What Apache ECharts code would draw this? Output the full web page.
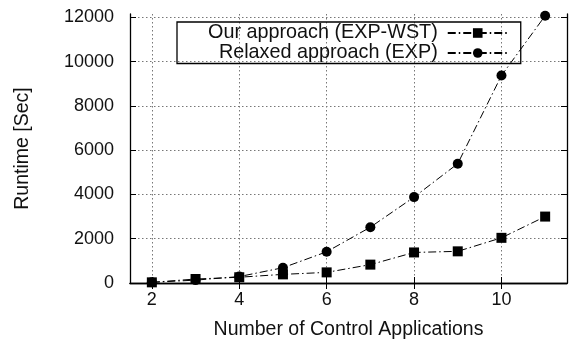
<!DOCTYPE html>
<html><head><meta charset="utf-8">
<script src="https://cdn.jsdelivr.net/npm/echarts@6/dist/echarts.min.js"></script>
<style>html,body{margin:0;padding:0;background:#fff}#c{width:570px;height:345px}</style>
</head><body><div id="c"></div>
<script>
const xValues = [2, 3, 4, 5, 6, 7, 8, 9, 10, 11];
const ourApproach = [30, 180, 260, 390, 480, 830, 1380, 1430, 2040, 3000];
const relaxedApproach = [30, 130, 290, 690, 1410, 2520, 3880, 5390, 9370, 12070];
const xTicks = [2, 4, 6, 8, 10];
const yTicks = [0, 2000, 4000, 6000, 8000, 10000, 12000];
const seriesNames = ['Our approach (EXP-WST)', 'Relaxed approach (EXP)'];

const font = '"Liberation Sans", Arial, Helvetica, sans-serif';
const chart = echarts.init(document.getElementById('c'), null, {renderer: 'canvas'});
const gridLine = {show: true, lineStyle: {color: '#777', type: [1.5, 2.5], width: 1}};
const axisLineS = {show: true, lineStyle: {color: '#000', width: 1.3}};
function xAx(pos, labels) {
  return {
    type: 'value', position: pos, min: 1.5, max: 11.5,
    axisLine: axisLineS,
    axisTick: {show: true, inside: true, length: 6, customValues: xTicks, lineStyle: {color: '#000'}},
    axisLabel: {show: labels, customValues: xTicks, color: '#111', fontSize: 18, fontFamily: font, margin: 8,
      formatter: v => String(v)},
    splitLine: labels ? gridLine : {show: false},
    name: labels ? 'Number of Control Applications' : '',
    nameLocation: 'middle', nameGap: 37,
    nameTextStyle: {color: '#111', fontSize: 19.5, fontFamily: font}
  };
}
function yAx(pos, labels) {
  return {
    type: 'value', position: pos, min: 0, max: 12150,
    axisLine: axisLineS,
    axisTick: {show: true, inside: true, length: 6, customValues: yTicks, lineStyle: {color: '#000'}},
    axisLabel: {show: labels, customValues: yTicks, color: '#111', fontSize: 18, fontFamily: font, margin: 16,
      formatter: v => String(v)},
    splitLine: labels ? gridLine : {show: false},
    name: labels ? 'Runtime [Sec]' : '',
    nameLocation: 'middle', nameGap: 97,
    nameTextStyle: {color: '#111', fontSize: 19.5, fontFamily: font}
  };
}
const lineS = {color: '#000', width: 1, type: [8, 3, 1.5, 3]};
chart.setOption({
  animation: false,
  grid: {left: 130, right: 3, top: 14, bottom: 61},
  xAxis: [xAx('bottom', true), xAx('top', false)],
  yAxis: [yAx('left', true), yAx('right', false)],
  legend: {
    orient: 'vertical', left: 177, top: 22,
    align: 'right',
    itemWidth: 60, itemHeight: 12, itemGap: 0,
    padding: [1, 12, 0.5, 31],
    borderColor: '#000', borderWidth: 1.3, borderRadius: 0,
    textStyle: {color: '#111', fontSize: 19.8, lineHeight: 18.5, fontFamily: font, padding: [0, 5, 0, 0]},
    data: seriesNames
  },
  series: [
    {name: seriesNames[0], type: 'line', data: xValues.map((x, i) => [x, ourApproach[i]]),
      symbol: 'rect', symbolSize: 10, itemStyle: {color: '#000'}, lineStyle: lineS},
    {name: seriesNames[1], type: 'line', data: xValues.map((x, i) => [x, relaxedApproach[i]]),
      symbol: 'circle', symbolSize: 10, itemStyle: {color: '#000'}, lineStyle: lineS}
  ]
});
</script></body></html>
